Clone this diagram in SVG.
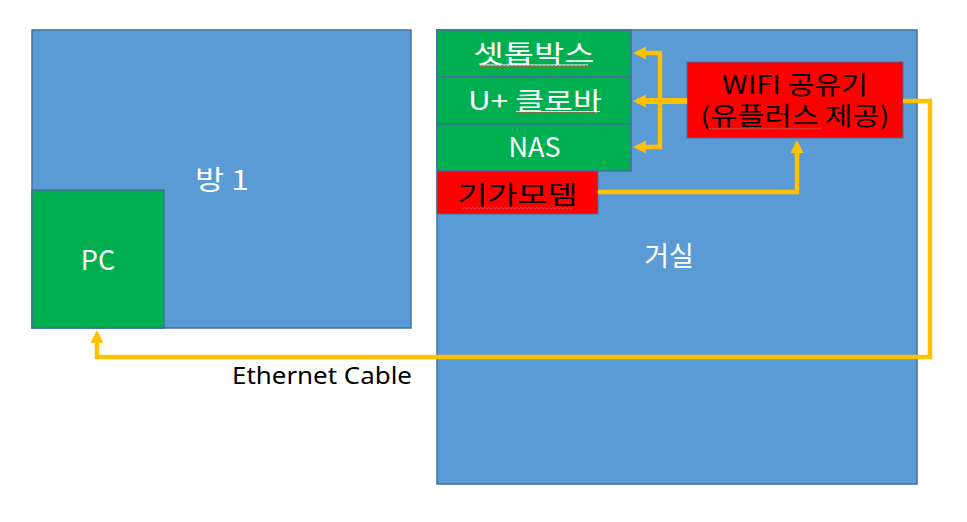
<svg xmlns="http://www.w3.org/2000/svg" width="967" height="522" viewBox="0 0 967 522">
<style>
.room{fill:#5B9BD5;stroke:#41719C;stroke-width:1.5}
.dev{fill:#00B050;stroke:#41719C;stroke-width:1.5}
.hot{fill:#FF0000;stroke:#41719C;stroke-width:1}
text{font-family:"Noto Sans CJK KR","Noto Sans",sans-serif;font-size:27px;text-anchor:middle}
.ko{font-size:25px}
.w{fill:#FFFFFF}
.k{fill:#000000}
.wire{fill:none;stroke:#FFC000;stroke-width:4.5;stroke-linejoin:miter}
.ul{stroke:#FFFFFF;stroke-width:1.2;fill:none}
.sp{stroke:#C0504D;stroke-width:1;fill:none}
</style>
<defs>
<marker id="ah" markerUnits="userSpaceOnUse" markerWidth="14" markerHeight="14" refX="9" refY="6.5" orient="auto">
<path d="M0,0 L13,6.5 L0,13 z" fill="#FFC000"/>
</marker>
</defs>
<rect width="967" height="522" fill="#FFFFFF"/>
<g id="room1">
<rect class="room" x="32" y="30" width="379" height="298"/>
<text class="w" x="222" y="190" textLength="54" lengthAdjust="spacingAndGlyphs">방 1</text>
</g>
<g id="pc">
<rect class="dev" x="32" y="190" width="132" height="138"/>
<text class="w" x="98" y="270">PC</text>
</g>
<g id="livingroom">
<rect class="room" x="437" y="30" width="480" height="454"/>
<text class="w" x="669" y="266">거실</text>
</g>
<g id="settopbox">
<rect class="dev" x="437" y="30" width="194" height="47"/>
<text class="w ko" x="534" y="62.5" textLength="121" lengthAdjust="spacingAndGlyphs">셋톱박스</text>
<path class="ul" d="M480,65 H588"/>
<path class="sp" d="M480,67 l2,-1.5 l2,1.5 l2,-1.5 l2,1.5 l2,-1.5 l2,1.5 l2,-1.5 l2,1.5 l2,-1.5 l2,1.5 l2,-1.5 l2,1.5 l2,-1.5 l2,1.5 l2,-1.5 l2,1.5 l2,-1.5 l2,1.5 l2,-1.5 l2,1.5 l2,-1.5 l2,1.5 l2,-1.5 l2,1.5 l2,-1.5 l2,1.5 l2,-1.5 l2,1.5 l2,-1.5 l2,1.5 l2,-1.5 l2,1.5 l2,-1.5 l2,1.5 l2,-1.5 l2,1.5 l2,-1.5 l2,1.5 l2,-1.5 l2,1.5 l2,-1.5 l2,1.5 l2,-1.5 l2,1.5 l2,-1.5 l2,1.5 l2,-1.5 l2,1.5 l2,-1.5 l2,1.5 l2,-1.5 l2,1.5 l2,-1.5 l2,1.5 l2,-1.5"/>
</g>
<g id="clova">
<rect class="dev" x="437" y="77" width="194" height="47"/>
<text class="w ko" x="535" y="109.5" textLength="134" lengthAdjust="spacingAndGlyphs">U+ 클로바</text>
<path class="ul" d="M516,111.5 H600"/>
<path class="sp" d="M516,113.5 l2,-1.5 l2,1.5 l2,-1.5 l2,1.5 l2,-1.5 l2,1.5 l2,-1.5 l2,1.5 l2,-1.5 l2,1.5 l2,-1.5 l2,1.5 l2,-1.5 l2,1.5 l2,-1.5 l2,1.5 l2,-1.5 l2,1.5 l2,-1.5 l2,1.5 l2,-1.5 l2,1.5 l2,-1.5 l2,1.5 l2,-1.5 l2,1.5 l2,-1.5 l2,1.5 l2,-1.5 l2,1.5 l2,-1.5 l2,1.5 l2,-1.5 l2,1.5 l2,-1.5 l2,1.5 l2,-1.5 l2,1.5 l2,-1.5 l2,1.5 l2,-1.5"/>
</g>
<g id="nas">
<rect class="dev" x="437" y="124" width="194" height="47"/>
<text class="w" x="534.5" y="157">NAS</text>
</g>
<g id="gigamodem">
<rect class="hot" x="437" y="171" width="161" height="43"/>
<text class="k ko" x="517.5" y="203.5" textLength="120" lengthAdjust="spacingAndGlyphs">기가모뎀</text>
<path class="sp" d="M463,209 l2,-1.5 l2,1.5 l2,-1.5 l2,1.5 l2,-1.5 l2,1.5 l2,-1.5 l2,1.5 l2,-1.5 l2,1.5 l2,-1.5 l2,1.5 l2,-1.5 l2,1.5 l2,-1.5 l2,1.5 l2,-1.5 l2,1.5 l2,-1.5 l2,1.5 l2,-1.5 l2,1.5 l2,-1.5 l2,1.5 l2,-1.5 l2,1.5 l2,-1.5 l2,1.5 l2,-1.5 l2,1.5 l2,-1.5 l2,1.5 l2,-1.5 l2,1.5 l2,-1.5 l2,1.5 l2,-1.5 l2,1.5 l2,-1.5 l2,1.5 l2,-1.5 l2,1.5 l2,-1.5 l2,1.5 l2,-1.5 l2,1.5 l2,-1.5 l2,1.5 l2,-1.5 l2,1.5 l2,-1.5 l2,1.5 l2,-1.5 l2,1.5 l2,-1.5"/>
</g>
<g id="wifi">
<rect class="hot" x="687" y="62" width="216" height="76"/>
<text class="k ko"><tspan x="795" y="94" textLength="146" lengthAdjust="spacingAndGlyphs">WIFI 공유기</tspan><tspan x="795" y="125" textLength="189" lengthAdjust="spacingAndGlyphs">(유플러스 제공)</tspan></text>
<path class="sp" d="M708,129.5 l2,-1.5 l2,1.5 l2,-1.5 l2,1.5 l2,-1.5 l2,1.5 l2,-1.5 l2,1.5 l2,-1.5 l2,1.5 l2,-1.5 l2,1.5 l2,-1.5 l2,1.5 l2,-1.5 l2,1.5 l2,-1.5 l2,1.5 l2,-1.5 l2,1.5 l2,-1.5 l2,1.5 l2,-1.5 l2,1.5 l2,-1.5 l2,1.5 l2,-1.5 l2,1.5 l2,-1.5 l2,1.5 l2,-1.5 l2,1.5 l2,-1.5 l2,1.5 l2,-1.5 l2,1.5 l2,-1.5 l2,1.5 l2,-1.5 l2,1.5 l2,-1.5 l2,1.5 l2,-1.5 l2,1.5 l2,-1.5 l2,1.5 l2,-1.5 l2,1.5 l2,-1.5 l2,1.5 l2,-1.5 l2,1.5 l2,-1.5 l2,1.5 l2,-1.5 l2,1.5 l2,-1.5"/>
</g>
<g id="connectors">
<path class="wire" style="stroke-width:6" d="M687,101 H637" marker-end="url(#ah)"/>
<path class="wire" d="M660,101 V53 H637" marker-end="url(#ah)"/>
<path class="wire" d="M660,101 V147 H637" marker-end="url(#ah)"/>
<path class="wire" d="M598,192 H797 V144" marker-end="url(#ah)"/>
<path class="wire" d="M903,101 H930 V357 H97 V334" marker-end="url(#ah)"/>
<text class="k" x="322" y="384" style="font-family:'Noto Sans',sans-serif;font-size:24px" textLength="180" lengthAdjust="spacingAndGlyphs">Ethernet Cable</text>
</g>
</svg>
